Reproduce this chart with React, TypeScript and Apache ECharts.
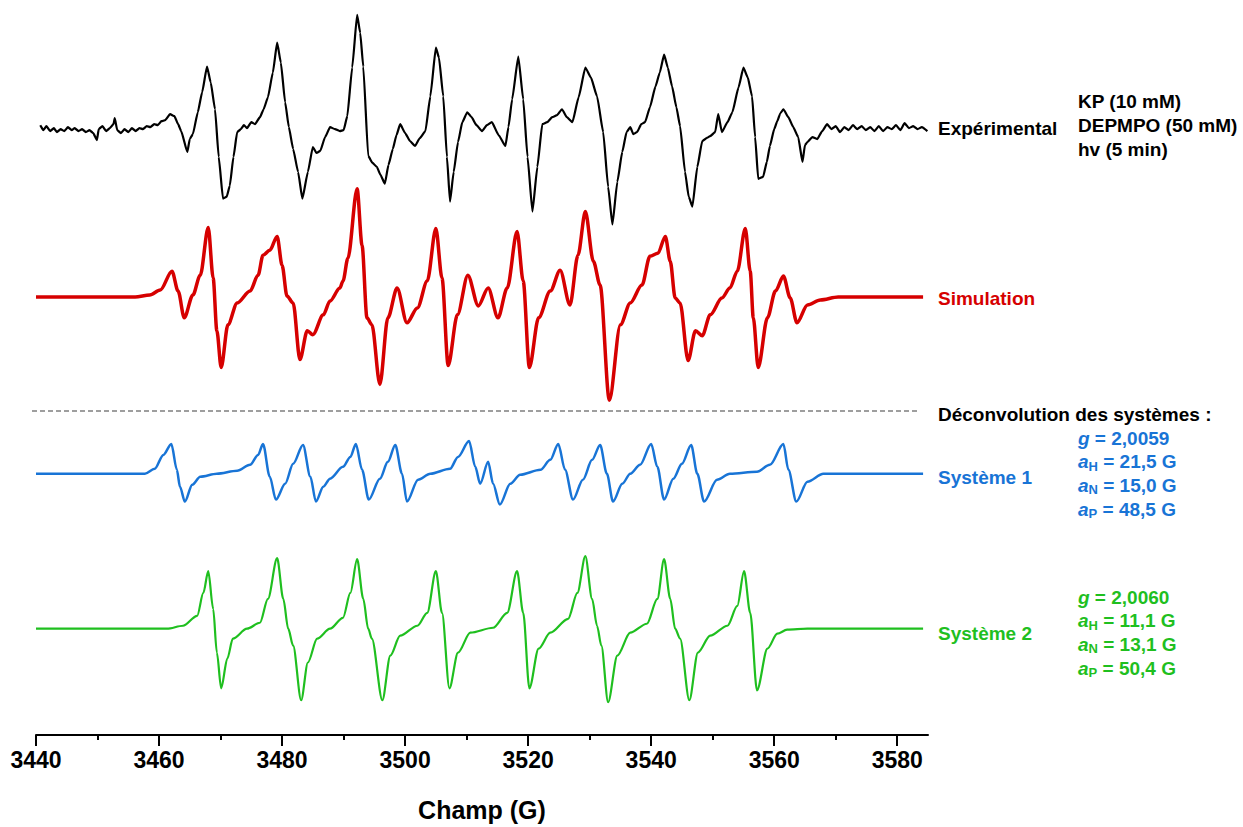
import React, { useEffect, useRef } from 'react';
import * as echarts from 'echarts';

// ---------- axis ----------
const FIELD_MIN = 3440;
const FIELD_MAX = 3585;
const MAJOR_TICKS = [3440, 3460, 3480, 3500, 3520, 3540, 3560, 3580];
const MINOR_TICKS = [3450, 3470, 3490, 3510, 3530, 3550, 3570];
const AXIS_TITLE = 'Champ (G)';

// ---------- spectra: [field (G), intensity (a.u.)] ----------
const EXPERIMENTAL: [number, number][] = [
  [3440.7, 2], [3441.2, -3], [3441.7, 1], [3442.3, -4], [3442.9, -1], [3443.4, -5], [3444.0, -2], [3444.6, -4],
  [3445.2, 0], [3445.8, -3], [3446.3, -1], [3446.9, -4], [3447.5, -2], [3448.1, -5], [3448.7, -3], [3449.3, -6],
  [3449.9, -13], [3450.2, -2], [3450.8, 1], [3451.4, -4], [3452.0, -1], [3452.6, 3], [3452.8, 9], [3453.2, -3],
  [3453.8, -6], [3454.4, -2], [3455.0, -5], [3455.6, -1], [3456.2, -4], [3456.8, -1], [3457.4, -2], [3458.0, 1],
  [3458.6, 0], [3459.2, 3], [3459.8, 2], [3460.4, 6], [3461.0, 7], [3461.8, 13], [3462.5, 11], [3463.1, 3],
  [3463.6, -4], [3464.6, -25], [3465.0, -12], [3465.5, -7], [3466.3, 15], [3467.0, 35], [3467.8, 61], [3468.4, 45],
  [3469.1, 18], [3469.7, -30], [3470.4, -72], [3471.0, -70], [3471.5, -59], [3472.1, -30], [3472.7, -5], [3473.3, -2],
  [3473.8, 2], [3474.3, -1], [3475.0, 5], [3475.6, 3], [3476.4, 10], [3477.0, 18], [3477.7, 30], [3478.5, 55],
  [3479.2, 85], [3479.8, 65], [3480.5, 25], [3481.1, 0], [3481.8, -22], [3482.6, -45], [3483.3, -72], [3484.2, -45],
  [3485.0, -20], [3485.6, -26], [3486.2, -24], [3487.0, -10], [3487.8, 0], [3488.6, -2], [3489.4, -4], [3490.0, -3],
  [3490.6, 11], [3491.4, 60], [3492.2, 113], [3492.7, 95], [3493.2, 61], [3494.0, -29], [3494.7, -36], [3495.4, -40],
  [3496.0, -48], [3496.7, -57], [3497.3, -38], [3498.0, -22], [3498.6, -8], [3499.2, 3], [3500.0, -6], [3500.8, -14],
  [3501.6, -19], [3502.4, -11], [3503.3, -4], [3504.1, 31], [3505.0, 80], [3505.5, 70], [3506.2, 31], [3506.8, -30],
  [3507.3, -75], [3507.9, -45], [3508.6, -15], [3509.3, 5], [3510.1, 15], [3510.8, 10], [3511.6, 2], [3512.5, -4],
  [3513.3, 2], [3514.1, 5], [3515.2, -8], [3516.3, -19], [3516.8, 0], [3517.4, 28], [3518.4, 71], [3519.2, 28],
  [3519.9, -30], [3520.7, -85], [3521.5, -40], [3522.3, 3], [3523.1, 5], [3523.9, 10], [3524.7, 12], [3525.5, 18],
  [3526.3, 10], [3527.2, 5], [3528.2, 30], [3529.3, 60], [3530.2, 50], [3531.2, 31], [3532.2, -5], [3533.0, -60],
  [3533.7, -98], [3534.5, -55], [3535.3, -25], [3536.0, -5], [3536.6, 0], [3537.1, -7], [3537.7, -5], [3538.4, 3],
  [3539.0, 5], [3539.8, 20], [3540.7, 41], [3541.4, 55], [3542.1, 73], [3542.7, 60], [3543.4, 41], [3544.1, 20],
  [3544.7, 1], [3545.5, -45], [3546.1, -70], [3546.7, -80], [3547.5, -40], [3548.3, -14], [3549.0, -11], [3549.6, -9],
  [3550.4, -5], [3550.9, 13], [3551.5, -5], [3552.4, 5], [3553.2, 15], [3554.2, 40], [3555.0, 60], [3555.7, 50],
  [3556.4, 31], [3556.9, -10], [3557.4, -52], [3558.2, -50], [3558.8, -35], [3559.3, -19], [3560.0, -2], [3560.5, 6],
  [3561.0, 14], [3561.5, 18], [3562.3, 10], [3563.1, 0], [3563.9, -10], [3564.6, -35], [3565.0, -18], [3565.4, -15],
  [3566.2, -10], [3567.0, -12], [3567.8, -4], [3568.6, 3], [3569.3, -2], [3570.0, 1], [3570.7, -5], [3571.4, 0],
  [3572.1, -3], [3572.8, 2], [3573.5, -2], [3574.2, 1], [3574.9, -3], [3575.6, 0], [3576.3, -4], [3577.0, 1],
  [3577.7, -4], [3578.4, 0], [3579.1, -2], [3579.8, 2], [3580.5, -3], [3581.2, 4], [3581.9, -1], [3582.6, 1],
  [3583.3, -2], [3584.0, 0], [3584.9, -4],
];

const SIMULATION: [number, number][] = [
  [3440.0, 0], [3456.1, 0], [3458.5, 2], [3460.2, 7], [3462.1, 26], [3463.1, 6], [3464.1, -21], [3465.5, 2],
  [3466.7, 22], [3468.0, 70], [3468.8, 19], [3469.4, -34], [3470.1, -71], [3471.2, -28], [3472.7, -6], [3474.8, 6],
  [3476.1, 22], [3476.9, 42], [3478.0, 47], [3479.2, 61], [3480.0, 32], [3480.8, 1], [3481.8, -6], [3482.9, -63],
  [3484.1, -34], [3485.0, -38], [3486.7, -18], [3487.8, -4], [3489.4, 9], [3489.9, 16], [3490.7, 39], [3492.2, 109],
  [3493.0, 52], [3493.8, -21], [3494.6, -28], [3495.9, -88], [3497.2, -21], [3498.7, 9], [3500.3, -26], [3502.0, -11],
  [3503.6, 16], [3505.0, 69], [3506.0, 19], [3507.0, -69], [3508.5, -18], [3510.2, 22], [3511.9, -9], [3513.5, 9],
  [3515.1, -21], [3516.6, 9], [3518.2, 66], [3519.2, 16], [3520.2, -71], [3521.7, -21], [3523.6, 6], [3525.2, 27],
  [3526.8, -8], [3528.1, 42], [3529.3, 86], [3530.6, 36], [3531.7, 12], [3533.2, -104], [3535.0, -28], [3536.6, -6],
  [3538.5, 12], [3539.8, 41], [3541.1, 44], [3542.3, 61], [3543.1, 36], [3543.9, -1], [3544.7, -6], [3546.0, -64],
  [3547.2, -34], [3548.3, -39], [3549.6, -18], [3551.5, -1], [3552.8, 9], [3554.0, 26], [3555.3, 69], [3556.1, 26],
  [3556.6, -21], [3557.4, -71], [3558.9, -21], [3560.2, 6], [3561.5, 21], [3562.6, -1], [3563.7, -26], [3565.4, -8],
  [3567.5, -3], [3570.4, 0], [3584.2, 0],
];

const SYSTEM_1: [number, number][] = [
  [3440.0, 0], [3457.7, 0], [3459.3, 5], [3460.7, 19], [3462.0, 30], [3462.9, 4], [3463.4, -13], [3464.2, -28],
  [3465.4, -11], [3466.7, -3], [3469.4, 0], [3472.7, 3], [3474.8, 9], [3476.1, 19], [3476.9, 30], [3478.0, -3],
  [3479.0, -26], [3480.5, -10], [3481.8, 10], [3483.4, 29], [3484.6, -3], [3485.5, -28], [3486.7, -13], [3487.8, -5],
  [3489.9, 7], [3491.1, 17], [3492.0, 30], [3493.0, 4], [3494.1, -26], [3495.9, -5], [3497.2, 12], [3498.4, 29],
  [3499.5, 0], [3500.3, -28], [3502.1, -6], [3504.1, 0], [3507.3, 5], [3508.6, 17], [3510.4, 33], [3511.4, 7],
  [3512.2, -10], [3513.5, 12], [3514.3, -10], [3515.4, -31], [3517.1, -10], [3518.7, -1], [3522.0, 4], [3523.6, 14],
  [3524.9, 30], [3526.0, 4], [3527.3, -26], [3528.9, -6], [3530.4, 14], [3531.7, 29], [3532.8, 0], [3533.8, -28],
  [3535.3, -10], [3536.6, 0], [3538.2, 9], [3540.0, 30], [3541.0, 7], [3542.1, -26], [3543.6, -5], [3545.0, 10],
  [3546.5, 29], [3547.5, 0], [3548.6, -28], [3550.7, -6], [3552.8, 0], [3557.2, 2], [3559.3, 9], [3561.5, 30],
  [3562.3, 4], [3563.6, -28], [3565.4, -8], [3568.0, 0], [3584.2, 0],
];

const SYSTEM_2: [number, number][] = [
  [3440.0, 0], [3461.3, 0], [3463.9, 3], [3466.2, 13], [3467.2, 36], [3468.0, 58], [3468.8, 20], [3469.4, -24],
  [3470.1, -60], [3471.1, -30], [3472.0, -10], [3474.3, 0], [3476.4, 6], [3477.7, 30], [3479.2, 71], [3480.2, 30],
  [3481.0, 0], [3481.8, -17], [3483.1, -72], [3484.2, -34], [3485.7, -10], [3487.8, 0], [3489.9, 11], [3491.1, 36],
  [3492.2, 70], [3493.2, 30], [3494.0, 0], [3494.6, -10], [3496.3, -72], [3497.6, -27], [3499.2, -7], [3502.0, 3],
  [3503.6, 16], [3505.0, 58], [3506.0, 16], [3507.2, -60], [3508.6, -24], [3510.6, -4], [3514.3, 1], [3516.6, 16],
  [3518.2, 58], [3519.2, 16], [3520.2, -60], [3521.7, -20], [3523.6, -4], [3526.5, 10], [3528.0, 36], [3529.3, 73],
  [3530.4, 30], [3531.2, 3], [3531.9, -17], [3533.0, -74], [3534.5, -27], [3536.6, -4], [3539.3, 5], [3541.0, 30],
  [3542.1, 70], [3543.1, 30], [3543.9, 0], [3544.7, -10], [3546.2, -72], [3547.6, -24], [3549.6, -7], [3552.4, 3],
  [3554.0, 23], [3555.1, 58], [3556.1, 16], [3557.2, -62], [3558.9, -20], [3560.5, -5], [3562.1, -1], [3565.4, 0],
  [3584.2, 0],
];

// ---------- labels ----------
const SERIES_NAMES = ['Expérimental', 'Simulation', 'Système 1', 'Système 2'];
const CONDITIONS = ['KP (10 mM)', 'DEPMPO (50 mM)', 'hv (5 min)'];
const DECONV_TITLE = 'Déconvolution des systèmes :';
const PARAMS_1 = ['{i|g} = 2,0059', '{i|a}{sub|H} = 21,5 G', '{i|a}{sub|N} = 15,0 G', '{i|a}{sub|P} = 48,5 G'];
const PARAMS_2 = ['{i|g} = 2,0060', '{i|a}{sub|H} = 11,1 G', '{i|a}{sub|N} = 13,1 G', '{i|a}{sub|P} = 50,4 G'];

const BLACK = '#000000';
const RED = '#d60000';
const BLUE = '#1874d6';
const GREEN = '#1fbf1f';
const FONT = 'Arial, "Liberation Sans", Helvetica, sans-serif';

export default function App() {
  const ref = useRef<HTMLDivElement>(null);

  useEffect(() => {
    if (!ref.current) return;
    const chart = echarts.init(ref.current, undefined, { renderer: 'svg' });

    // vertical stacking of the traces (layout only)
    const stack = [
      { data: EXPERIMENTAL, offset: 612, color: BLACK, width: 2.2, smooth: 0.15 },
      { data: SIMULATION, offset: 441, color: RED, width: 3.5, smooth: 0.3 },
      { data: SYSTEM_1, offset: 263, color: BLUE, width: 2.5, smooth: 0.3 },
      { data: SYSTEM_2, offset: 107, color: GREEN, width: 2.2, smooth: 0.3 },
    ];

    const txt = (x: number, y: number, text: string, fill: string, extra: any = {}) => ({
      type: 'text',
      x,
      y,
      silent: true,
      style: {
        text,
        fill,
        fontFamily: FONT,
        fontSize: 19,
        fontWeight: 'bold',
        verticalAlign: 'middle',
        align: 'left',
        ...extra,
      },
    });

    const rich = {
      i: { fontStyle: 'italic', fontWeight: 'bold', fontSize: 19, fontFamily: FONT },
      sub: { fontWeight: 'bold', fontSize: 13, fontFamily: FONT, padding: [9, 0, 0, 0] },
    };

    const graphics: any[] = [
      {
        type: 'line',
        silent: true,
        shape: { x1: 32, y1: 411, x2: 920, y2: 411 },
        style: { stroke: '#7f7f7f', lineWidth: 1.5, lineDash: [5, 3] },
      },
      txt(938, 128, SERIES_NAMES[0], BLACK),
      txt(938, 298, SERIES_NAMES[1], RED),
      txt(938, 477, SERIES_NAMES[2], BLUE),
      txt(938, 633, SERIES_NAMES[3], GREEN),
      txt(938, 414, DECONV_TITLE, BLACK),
    ];
    CONDITIONS.forEach((t, i) => graphics.push(txt(1078, 101 + i * 24, t, BLACK)));
    PARAMS_1.forEach((t, i) => graphics.push(txt(1078, 438 + i * 23.7, t, BLUE, { rich })));
    PARAMS_2.forEach((t, i) => graphics.push(txt(1078, 597 + i * 23.7, t, GREEN, { rich })));

    chart.setOption({
      animation: false,
      backgroundColor: '#ffffff',
      grid: { left: 36, right: 315, top: 0, bottom: 87, containLabel: false },
      xAxis: [
        {
          type: 'value',
          min: FIELD_MIN,
          max: FIELD_MAX,
          position: 'bottom',
          name: AXIS_TITLE,
          nameLocation: 'middle',
          nameGap: 62,
          nameTextStyle: { fontFamily: FONT, fontSize: 25, fontWeight: 'bold', color: BLACK },
          axisLine: { show: true, onZero: false, lineStyle: { color: BLACK, width: 2 } },
          axisTick: { show: true, length: 11, customValues: MAJOR_TICKS, lineStyle: { color: BLACK, width: 2 } },
          axisLabel: {
            show: true,
            customValues: MAJOR_TICKS,
            formatter: (v: number) => String(v),
            margin: 13,
            fontFamily: FONT,
            fontSize: 23,
            fontWeight: 'bold',
            color: BLACK,
          },
          splitLine: { show: false },
        },
        {
          type: 'value',
          min: FIELD_MIN,
          max: FIELD_MAX,
          position: 'bottom',
          axisLine: { show: false, onZero: false },
          axisTick: { show: true, length: 5, customValues: MINOR_TICKS, lineStyle: { color: BLACK, width: 2 } },
          axisLabel: { show: false },
          splitLine: { show: false },
        },
      ],
      yAxis: { type: 'value', min: 0, max: 740, show: false },
      series: stack.map((s, i) => ({
        type: 'line',
        name: SERIES_NAMES[i],
        xAxisIndex: 0,
        showSymbol: false,
        symbol: 'none',
        smooth: s.smooth,
        smoothMonotone: 'x',
        silent: true,
        lineStyle: { color: s.color, width: s.width, join: 'round' },
        data: s.data.map(([f, v]) => [f, v + s.offset]),
      })),
      graphic: graphics,
    });

    return () => chart.dispose();
  }, []);

  return (
    <div
      ref={ref}
      style={{ position: 'fixed', left: 0, top: 0, width: 1243, height: 827, background: '#fff' }}
    />
  );
}
